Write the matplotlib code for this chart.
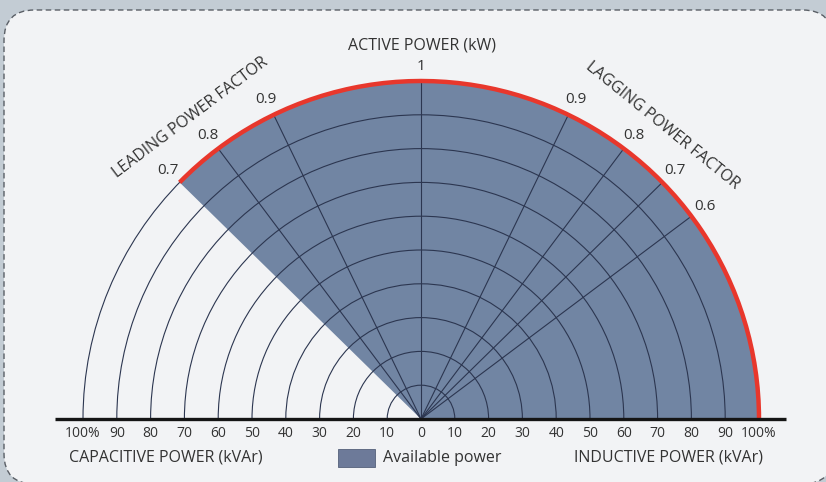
import numpy as np
import matplotlib
matplotlib.use("Agg")
import matplotlib.pyplot as plt
from matplotlib.patches import Wedge, Arc, FancyBboxPatch, Rectangle

# ---- data ----
arc_levels = [10, 20, 30, 40, 50, 60, 70, 80, 90, 100]          # % of apparent power
lagging_pf = [0.9, 0.8, 0.7, 0.6]
leading_pf = [0.9, 0.8, 0.7]
leading_limit_pf = 0.7                                            # available power edge (leading)
tick_values = [-100, -90, -80, -70, -60, -50, -40, -30, -20, -10, 0,
               10, 20, 30, 40, 50, 60, 70, 80, 90, 100]
tick_labels = ["100%", "90", "80", "70", "60", "50", "40", "30", "20", "10", "0",
               "10", "20", "30", "40", "50", "60", "70", "80", "90", "100%"]

FONT = ["Open Sans", "DejaVu Sans"]
plt.rcParams['font.family'] = FONT

W, H = 826, 482
cx, cy, scale = 421, 419, 3.38   # pixel centre & px per unit

fig = plt.figure(figsize=(W / 100, H / 100), dpi=100)
fig.patch.set_facecolor("#c3ccd4")
ax = fig.add_axes([0, 0, 1, 1])
ax.set_xlim(-cx / scale, (W - cx) / scale)
ax.set_ylim((cy - H) / scale, cy / scale)
ax.set_aspect("equal")
ax.axis("off")

def px(x, y):
    return ((x - cx) / scale, (cy - y) / scale)

TXT = "#333333"

# rounded background box
x0, y0 = px(4, 484)
x1, y1 = px(833, 10)
box = FancyBboxPatch((x0, y0), x1 - x0, y1 - y0,
                     boxstyle="round,pad=0,rounding_size=9",
                     facecolor="#f2f3f5", edgecolor="#5a5f66",
                     linewidth=1.0, linestyle=(0, (4, 2.5)), zorder=0)
ax.add_patch(box)

R = 100
edge_angle = 90 + np.degrees(np.arccos(leading_limit_pf))

# available power region
ax.add_patch(Wedge((0, 0), R, 0, edge_angle, facecolor="#7185a3",
                   edgecolor="none", zorder=1))

grid_col = "#2c3650"
# semicircle grid
for lv in arc_levels:
    ax.add_patch(Arc((0, 0), 2 * lv, 2 * lv, theta1=0, theta2=180,
                     color=grid_col, lw=0.8, zorder=2))

# radial lines
angles = [90] + [90 - np.degrees(np.arccos(p)) for p in lagging_pf] + \
         [90 + np.degrees(np.arccos(p)) for p in leading_pf if p != leading_limit_pf]
for a in angles:
    t = np.radians(a)
    ax.plot([0, R * np.cos(t)], [0, R * np.sin(t)], color=grid_col, lw=0.8, zorder=2)

# red boundary arc
ax.add_patch(Arc((0, 0), 2 * R, 2 * R, theta1=0, theta2=edge_angle,
                 color="#e8372c", lw=3.2, zorder=3))

# baseline
ax.plot([-108.3, 108.0], [0, 0], color="#151515", lw=2.4, zorder=4,
        solid_capstyle="butt")

# bottom tick labels
for v, lab in zip(tick_values, tick_labels):
    ax.text(v, -4.2, lab, ha="center", va="center", fontsize=10, color=TXT)

# power factor labels
rl = 105
for p in lagging_pf:
    t = np.radians(90 - np.degrees(np.arccos(p)))
    ax.text(rl * np.cos(t), rl * np.sin(t), f"{p:g}", ha="center", va="center",
            fontsize=11, color=TXT)
for p in leading_pf:
    t = np.radians(90 + np.degrees(np.arccos(p)))
    ax.text(rl * np.cos(t), rl * np.sin(t), f"{p:g}", ha="center", va="center",
            fontsize=11, color=TXT)
ax.text(0, 104.2, "1", ha="center", va="center", fontsize=11, color=TXT)

# titles
ax.text(*px(422, 45), "ACTIVE POWER (kW)", ha="center", va="center",
        fontsize=11.5, color=TXT)
ax.text(*px(190, 118), "LEADING POWER FACTOR", ha="center", va="center",
        fontsize=11.5, color=TXT, rotation=37, rotation_mode="anchor")
ax.text(*px(662, 126), "LAGGING POWER FACTOR", ha="center", va="center",
        fontsize=11.5, color=TXT, rotation=-39, rotation_mode="anchor")
ax.text(*px(166, 458), "CAPACITIVE POWER (kVAr)", ha="center", va="center",
        fontsize=11.5, color=TXT)
ax.text(*px(668, 458), "INDUCTIVE POWER (kVAr)", ha="center", va="center",
        fontsize=11.5, color=TXT)

# legend
lx0, ly0 = px(338, 467)
lx1, ly1 = px(375, 449)
ax.add_patch(Rectangle((lx0, ly0), lx1 - lx0, ly1 - ly0, facecolor="#6d7a99",
                       edgecolor="#55607a", lw=0.6, zorder=3))
ax.text(*px(383, 458), "Available power", ha="left", va="center",
        fontsize=11.5, color=TXT)

fig.savefig("out.png", dpi=100, facecolor=fig.get_facecolor())
